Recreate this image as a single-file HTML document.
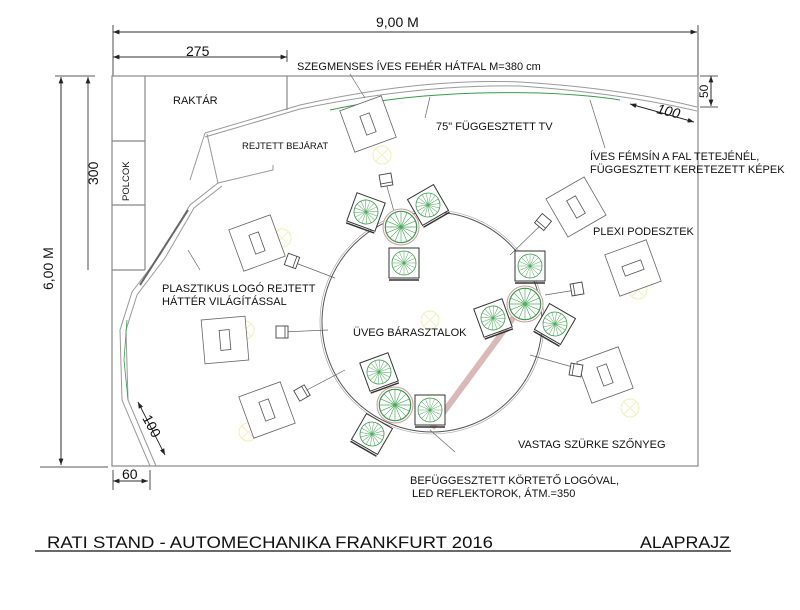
<!DOCTYPE html>
<html><head><meta charset="utf-8"><style>
html,body{margin:0;padding:0;background:#fff;}
svg{display:block;font-family:"Liberation Sans",Arial,sans-serif;}
</style></head><body>
<svg width="800" height="610" viewBox="0 0 800 610" xmlns="http://www.w3.org/2000/svg">
<defs>
<marker id="ar" markerWidth="8" markerHeight="6" refX="8" refY="3" orient="auto"><path d="M0,0 L8,3 L0,6 z" fill="#222"/></marker>
<g id="wheel">
 <circle r="12" fill="none" stroke="#3a9a4a" stroke-width="0.8"/>
 <g stroke="#4aa85a" stroke-width="0.5">
  <line x1="-12" y1="0" x2="12" y2="0"/><line x1="0" y1="-12" x2="0" y2="12"/>
  <line x1="-8.5" y1="-8.5" x2="8.5" y2="8.5"/><line x1="-8.5" y1="8.5" x2="8.5" y2="-8.5"/>
  <line x1="-11" y1="-4.6" x2="11" y2="4.6"/><line x1="-4.6" y1="-11" x2="4.6" y2="11"/>
  <line x1="-11" y1="4.6" x2="11" y2="-4.6"/><line x1="4.6" y1="-11" x2="-4.6" y2="11"/>
 </g>
</g>
<g id="tbl">
 <rect x="-15" y="-15" width="30" height="30" fill="#fff" stroke="#333" stroke-width="1"/>
 <line x1="-15" y1="17" x2="15" y2="17" stroke="#333" stroke-width="1.5"/>
 <use href="#wheel"/>
</g>
<g id="rnd">
 <circle r="18" fill="#fff" stroke="#c99" stroke-width="1"/>
 <circle r="16" fill="none" stroke="#888" stroke-width="0.6"/>
 <use href="#wheel" transform="scale(1.3)"/>
</g>
<g id="pod">
 <rect x="-22" y="-22" width="44" height="44" fill="#fff" stroke="#666" stroke-width="0.8"/>
 <rect x="-5" y="-10" width="10" height="20" fill="none" stroke="#555" stroke-width="0.8"/>
</g>
<g id="chr">
 <rect x="-6" y="-6" width="12" height="12" fill="#fff" stroke="#444" stroke-width="0.9"/>
 <line x1="-6" y1="3" x2="6" y2="3" stroke="#444" stroke-width="0.8"/>
</g>
<g id="yc"><circle r="9" fill="none" stroke="#eef0b0" stroke-width="1"/><path d="M-6,-6 L6,6 M-6,6 L6,-6" stroke="#eef0b0" stroke-width="0.8"/></g>
</defs>

<g stroke="#222" stroke-width="0.8" fill="none">
 <line x1="113" y1="32" x2="697" y2="32" marker-end="url(#ar)"/>
 <line x1="697" y1="32" x2="113" y2="32" marker-end="url(#ar)"/>
 <line x1="113" y1="25" x2="113" y2="76"/><line x1="698" y1="25" x2="698" y2="76"/>
 <line x1="113" y1="57" x2="287" y2="57" marker-end="url(#ar)"/>
 <line x1="287" y1="57" x2="113" y2="57" marker-end="url(#ar)"/>
 <line x1="287" y1="50" x2="287" y2="62"/>
 <line x1="61" y1="77" x2="61" y2="465" marker-end="url(#ar)"/>
 <line x1="61" y1="465" x2="61" y2="77" marker-end="url(#ar)"/>
 <line x1="88" y1="270" x2="88" y2="77" marker-end="url(#ar)"/>
 <line x1="55" y1="76" x2="95" y2="76"/><line x1="40" y1="467" x2="108" y2="467"/>
 <line x1="113" y1="481" x2="148" y2="481" marker-end="url(#ar)"/>
 <line x1="148" y1="481" x2="113" y2="481" marker-end="url(#ar)"/>
 <line x1="113" y1="470" x2="113" y2="490"/><line x1="150" y1="470" x2="150" y2="490"/>
 <line x1="711" y1="76" x2="711" y2="106" marker-end="url(#ar)"/>
 <line x1="711" y1="106" x2="711" y2="76" marker-end="url(#ar)"/>
 <line x1="700" y1="76" x2="718" y2="76"/><line x1="700" y1="107" x2="718" y2="107"/>
 <line x1="630" y1="104" x2="694" y2="122" marker-end="url(#ar)"/>
 <line x1="694" y1="122" x2="630" y2="104" marker-end="url(#ar)"/>
 <line x1="138" y1="402" x2="165" y2="455" marker-end="url(#ar)"/>
 <line x1="165" y1="455" x2="138" y2="402" marker-end="url(#ar)"/>
</g>
<g font-size="14" fill="#111">
 <text x="376" y="27">9,00 M</text>
 <text x="186" y="56">275</text>
 <text x="122" y="479">60</text>
 <text x="0" y="0" transform="translate(53,290) rotate(-90)">6,00 M</text>
 <text x="0" y="0" transform="translate(98,185) rotate(-90)">300</text>
 <text x="0" y="0" font-size="12" transform="translate(708,98) rotate(-90)">50</text>
 <text x="0" y="0" font-style="italic" transform="translate(656,113) rotate(14)">100</text>
 <text x="0" y="0" transform="translate(142,418) rotate(62)">100</text>
</g>

<g stroke="#888" stroke-width="1.2" fill="none">
 <rect x="112" y="76" width="586" height="390"/>
 <line x1="145" y1="76" x2="145" y2="270"/>
 <line x1="112" y1="141" x2="145" y2="141"/><line x1="112" y1="205" x2="145" y2="205"/>
 <line x1="112" y1="270" x2="145" y2="270"/>
 <line x1="287" y1="76" x2="287" y2="110"/>
</g>
<g stroke="#999" stroke-width="1" fill="none">
 <path d="M205,133 L300,105 Q420,78 520,82 Q620,88 697,107"/>
 <path d="M205,137 L300,109 Q420,84 520,86 Q620,93 697,111"/>
 <path d="M205,133 L190,180"/><path d="M207,134 L218,183 L273,170 L273,165"/>
 <path d="M218,183 L190,205 L160,255 L132,292 L120,330 L122,400 L150,466"/>
 <path d="M222,186 L194,208 L165,258 L137,295 L126,330 L128,400 L156,466"/>
 <path d="M188,210 L140,285" stroke="#666" stroke-width="2"/>
</g>
<path d="M330,110 Q420,90 540,93 Q590,95 620,100" stroke="#3a9a4a" stroke-width="1" fill="none"/>
<path d="M127,320 L124,360 L128,400" stroke="#3a9a4a" stroke-width="0.8" fill="none"/>

<circle cx="432" cy="322" r="110" fill="none" stroke="#555" stroke-width="1"/>
<circle cx="432" cy="322" r="112" fill="none" stroke="#999" stroke-width="0.6"/>
<line x1="522" y1="306" x2="432" y2="428" stroke="#d9b8b8" stroke-width="6"/>

<use href="#yc" x="382" y="155"/><use href="#yc" x="282" y="238"/><use href="#yc" x="248" y="432"/>
<use href="#yc" x="572" y="197"/><use href="#yc" x="638" y="290"/><use href="#yc" x="630" y="408"/>
<use href="#yc" x="430" y="320"/><use href="#yc" x="245" y="330"/>

<use href="#pod" transform="translate(368,124) rotate(-20)"/>
<use href="#pod" transform="translate(257,243) rotate(-20)"/>
<use href="#pod" transform="translate(225,340) rotate(-5)"/>
<use href="#pod" transform="translate(576,207) rotate(-30)"/>
<use href="#pod" transform="translate(633,268) rotate(-20) rotate(90)"/>
<use href="#pod" transform="translate(605,375) rotate(-20)"/>
<use href="#pod" transform="translate(267,410) rotate(-20)"/>

<g stroke="#666" stroke-width="0.7">
 <line x1="386" y1="183" x2="395" y2="215"/>
 <line x1="293" y1="262" x2="335" y2="278"/>
 <line x1="282" y1="332" x2="328" y2="330"/>
 <line x1="303" y1="392" x2="345" y2="370"/>
 <line x1="543" y1="223" x2="510" y2="255"/>
 <line x1="576" y1="290" x2="545" y2="295"/>
 <line x1="576" y1="368" x2="530" y2="355"/>
 <line x1="430" y1="430" x2="455" y2="452"/>
 <line x1="350" y1="74" x2="365" y2="98"/>
 <line x1="425" y1="118" x2="430" y2="97"/>
 <line x1="605" y1="148" x2="590" y2="100"/>
 <line x1="188" y1="250" x2="200" y2="270"/>
</g>
<use href="#chr" transform="translate(386,180) rotate(-10)"/>
<use href="#chr" transform="translate(292,261) rotate(-70)"/>
<use href="#chr" transform="translate(282,332) rotate(-90)"/>
<use href="#chr" transform="translate(302,393) rotate(-120)"/>
<use href="#chr" transform="translate(543,222) rotate(40)"/>
<use href="#chr" transform="translate(577,289) rotate(80)"/>
<use href="#chr" transform="translate(576,370) rotate(100)"/>

<use href="#tbl" transform="translate(366,212) rotate(20)"/>
<use href="#tbl" transform="translate(428,205) rotate(-30)"/>
<use href="#tbl" transform="translate(404,263) rotate(0)"/>
<use href="#tbl" transform="translate(530,266) rotate(0)"/>
<use href="#tbl" transform="translate(493,318) rotate(-20)"/>
<use href="#tbl" transform="translate(555,324) rotate(30)"/>
<use href="#tbl" transform="translate(379,372) rotate(-20)"/>
<use href="#tbl" transform="translate(430,410) rotate(0)"/>
<use href="#tbl" transform="translate(372,434) rotate(30)"/>
<use href="#rnd" x="401" y="227"/>
<use href="#rnd" x="525" y="304"/>
<use href="#rnd" x="395" y="405"/>

<g font-size="11" fill="#111">
 <text x="297" y="70">SZEGMENSES ÍVES FEHÉR HÁTFAL M=380 cm</text>
 <text x="173" y="104">RAKTÁR</text>
 <text x="242" y="149" font-size="9.5">REJTETT BEJÁRAT</text>
 <text x="0" y="0" font-size="9.5" transform="translate(129,201) rotate(-90)">POLCOK</text>
 <text x="436" y="130">75" FÜGGESZTETT TV</text>
 <text x="590" y="160">ÍVES FÉMSÍN A FAL TETEJÉNÉL,</text>
 <text x="590" y="173">FÜGGESZTETT KERETEZETT KÉPEK</text>
 <text x="593" y="235">PLEXI PODESZTEK</text>
 <text x="162" y="292">PLASZTIKUS LOGÓ REJTETT</text>
 <text x="162" y="305">HÁTTÉR VILÁGÍTÁSSAL</text>
 <text x="353" y="336">ÜVEG BÁRASZTALOK</text>
 <text x="518" y="448">VASTAG SZÜRKE SZŐNYEG</text>
 <text x="410" y="484">BEFÜGGESZTETT KÖRTETŐ LOGÓVAL,</text>
 <text x="412" y="497">LED REFLEKTOROK, ÁTM.=350</text>
</g>
<g font-size="17" fill="#111">
 <text x="47" y="548" textLength="446" lengthAdjust="spacingAndGlyphs">RATI STAND - AUTOMECHANIKA FRANKFURT 2016</text>
 <text x="640" y="548" textLength="90" lengthAdjust="spacingAndGlyphs">ALAPRAJZ</text>
</g>
<line x1="35" y1="551" x2="731" y2="551" stroke="#111" stroke-width="1.2"/>
</svg>
</body></html>
